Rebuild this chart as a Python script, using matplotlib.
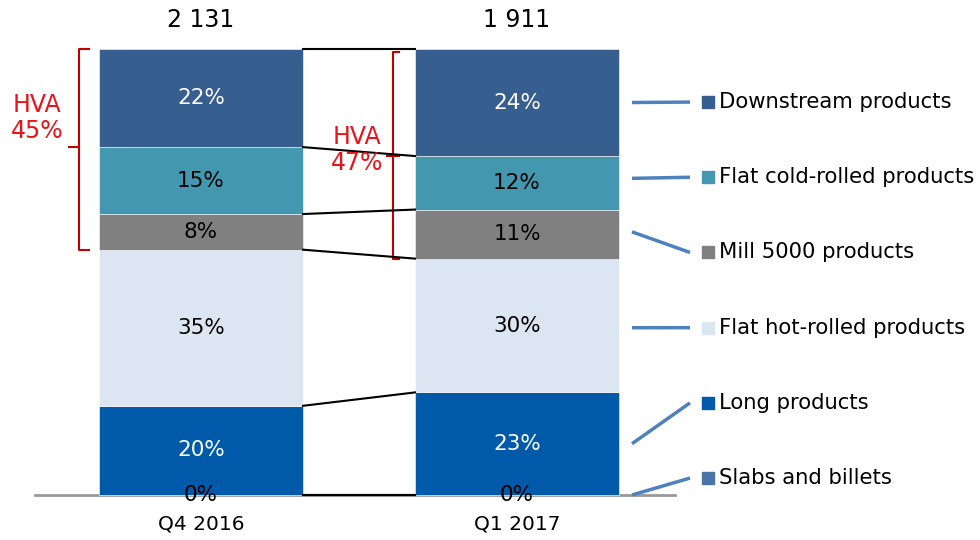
import numpy as np
import matplotlib
matplotlib.use('Agg')
import matplotlib.pyplot as plt

# 數據
periods = ['Q4 2016', 'Q1 2017']
totals = ['2 131', '1 911']
products = ['Slabs and billets', 'Long products', 'Flat hot-rolled products',
            'Mill 5000 products', 'Flat cold-rolled products', 'Downstream products']
q4_2016 = [0, 20, 35, 8, 15, 22]
q1_2017 = [0, 23, 30, 11, 12, 24]
hva_labels = ['HVA\n45%', 'HVA\n47%']
colors = ['#4A74A8', '#005AA9', '#DCE6F2', '#808080', '#4398B0', '#365F8F']
text_colors = ['black', 'white', 'black', 'black', 'black', 'white']
leader_start = [0, 11.5, 37.5, 59, 71, 88]

plt.rcParams['font.family'] = ['DejaVu Sans']

fig = plt.figure(figsize=(9.8, 5.4), dpi=100)
ax = fig.add_axes([0, 0, 1, 1])
# 像素座標對應: 柱中心在 201 / 517 px，0% 在 495 px，100% 在 49 px
ax.set_xlim(-201 / 316, (980 - 201) / 316)
ax.set_ylim(-45 / 4.46, (540 - 45) / 4.46)
ax.axis('off')

data = np.array([q4_2016, q1_2017])
x = np.arange(len(periods))
width = 204 / 316
bottoms = np.zeros(len(periods))
for i, name in enumerate(products):
    ax.bar(x, data[:, i], width, bottom=bottoms, color=colors[i],
           edgecolor='white', linewidth=0.4, zorder=2)
    for j in range(len(periods)):
        if data[j, i] > 0:
            ax.text(x[j], bottoms[j] + data[j, i] / 2, f'{data[j, i]}%',
                    ha='center', va='center', fontsize=15.5, color=text_colors[i], zorder=4)
        else:
            ax.text(x[j], bottoms[j], f'{data[j, i]}%', ha='center', va='center',
                    fontsize=15.5, color=text_colors[i], zorder=4)
    bottoms += data[:, i]

# 連接線
cum = np.hstack([np.zeros((2, 1)), np.cumsum(data, axis=1)])
for k in range(cum.shape[1]):
    ax.plot([x[0] + width / 2, x[1] - width / 2], [cum[0, k], cum[1, k]],
            color='black', linewidth=1.5, zorder=3)

# 基線
ax.plot([(35 - 201) / 316, (675 - 201) / 316], [0, 0], color='#999999', linewidth=2, zorder=1)

# 總量 & 類別
for j in range(len(periods)):
    ax.text(x[j], 106.5, totals[j], ha='center', va='center', fontsize=17)
    ax.text(x[j], -6.5, periods[j], ha='center', va='center', fontsize=14.5)

# HVA 括號
red = '#E8141B'
dark_red = '#C00000'
hva_bottom = cum[:, 3]
hva_mid = cum[:, 5]
bx = (79 - 201) / 316
hook = 10 / 316
ax.plot([bx + hook, bx, bx, bx + hook], [100, 100, hva_bottom[0], hva_bottom[0]],
        color=dark_red, linewidth=1.5)
ax.plot([bx, bx - 10 / 316], [hva_mid[0], hva_mid[0]], color=dark_red, linewidth=1.5)
ax.text((37 - 201) / 316, hva_mid[0] + 6.5, hva_labels[0], ha='center', va='center',
        fontsize=17, color=red, linespacing=1.1)

bx1 = (393 - 201) / 316
h1 = 6 / 316
ax.plot([bx1 + h1, bx1, bx1, bx1 + h1], [99.3, 99.3, hva_bottom[1], hva_bottom[1]],
        color=dark_red, linewidth=1.5)
ax.plot([bx1 - h1, bx1 + h1], [hva_mid[1], hva_mid[1]], color=dark_red, linewidth=1.5)
ax.text((357 - 201) / 316, hva_mid[1] + 1.3, hva_labels[1], ha='center', va='center',
        fontsize=17, color=red, linespacing=1.1)

# 圖例 & 引導線
label_y = np.linspace(88.1, 3.8, 6)
for i, name in enumerate(products):
    ly = label_y[5 - i]
    ax.plot([(632 - 201) / 316, (690 - 201) / 316], [leader_start[i], ly],
            color='#4F81BD', linewidth=2.5, solid_capstyle='butt')
    ax.scatter([(708 - 201) / 316], [ly], marker='s', s=80, color=colors[i], zorder=5)
    ax.text((719 - 201) / 316, ly, name, ha='left', va='center', fontsize=15.2)

plt.savefig('out.png', dpi=100)
